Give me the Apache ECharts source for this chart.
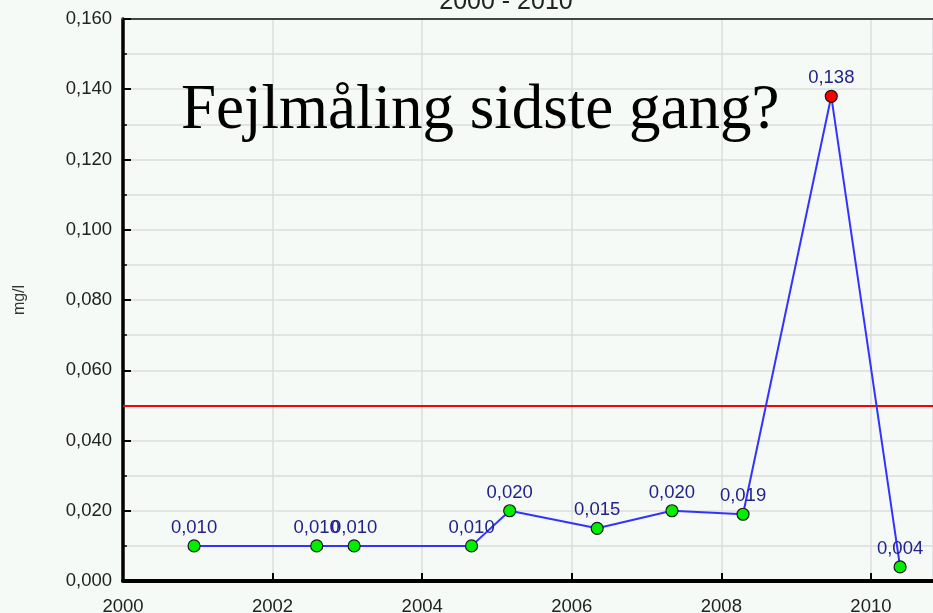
<!DOCTYPE html>
<html>
<head>
<meta charset="utf-8">
<script src="https://cdn.jsdelivr.net/npm/echarts@6/dist/echarts.min.js"></script>
<style>
  html, body { margin: 0; padding: 0; background: #f5faf7; }
  #chart { width: 933px; height: 613px; }
</style>
</head>
<body>
<div id="chart"></div>
<script>
// Sampling dates as decimal years, and measured concentrations (mg/l)
const sampleYears = [2000.95, 2002.59, 2003.09, 2004.66, 2005.17, 2006.34, 2007.34, 2008.29, 2009.47, 2010.39];
const concentrations = [0.010, 0.010, 0.010, 0.010, 0.020, 0.015, 0.020, 0.019, 0.138, 0.004];
const limitValue = 0.050;
const yearTicks = [2000, 2002, 2004, 2006, 2008, 2010];
const titleText = '2000 - 2010';
const unitText = 'mg/l';
const noteText = 'Fejlmåling sidste gang?';

const fmt = v => v.toFixed(3).replace('.', ',');

const points = sampleYears.map((yr, i) => {
  const v = concentrations[i];
  return {
    value: [yr, v],
    itemStyle: { color: v > limitValue ? '#ff0000' : '#00ee00' }
  };
});

// visible time span: the plot runs off the right edge a little before 2011
const xMin = 2000;
const xMax = 2010.83;

const chart = echarts.init(document.getElementById('chart'));
chart.setOption({
  backgroundColor: '#f5faf7',
  animation: false,
  title: {
    text: titleText,
    left: 501,
    textAlign: 'center',
    top: -15,
    textStyle: { fontFamily: 'Liberation Sans', fontSize: 25, fontWeight: 'normal', color: '#222' }
  },
  grid: { left: 123, right: 0, top: 19, bottom: 32, containLabel: false, outerBoundsMode: 'none' },
  xAxis: [{
    type: 'value',
    min: xMin,
    max: xMax,
    interval: 2,
    axisLine: { show: true, onZero: false, lineStyle: { color: '#000', width: 4 } },
    axisTick: { show: true, inside: true, length: 8, lineStyle: { color: '#000', width: 2 } },
    axisLabel: {
      showMaxLabel: false,
      margin: 16,
      fontFamily: 'Liberation Sans', fontSize: 18.5, color: '#222',
      formatter: v => (yearTicks.includes(v) ? String(v) : '')
    },
    splitLine: { show: true, lineStyle: { color: '#dcdcdc', width: 1.5 } }
  }, {
    type: 'value',
    position: 'top',
    min: xMin,
    max: xMax,
    axisLine: { show: true, onZero: false, lineStyle: { color: '#444', width: 2 } },
    axisTick: { show: false },
    axisLabel: { show: false },
    splitLine: { show: false }
  }],
  yAxis: {
    type: 'value',
    min: 0,
    max: 0.16,
    interval: 0.02,
    name: unitText,
    nameLocation: 'middle',
    nameGap: 95,
    nameTextStyle: { fontFamily: 'Liberation Sans', fontSize: 16, color: '#333' },
    axisLine: { show: true, onZero: false, lineStyle: { color: '#000', width: 3.5 } },
    axisTick: { show: true, inside: true, length: 8, lineStyle: { color: '#000', width: 2 } },
    minorTick: { show: true, splitNumber: 2, length: 4, lineStyle: { color: '#000', width: 1.5 } },
    minorSplitLine: { show: true, lineStyle: { color: '#dcdcdc', width: 1.5 } },
    axisLabel: {
      margin: 11,
      fontFamily: 'Liberation Sans', fontSize: 18.5, color: '#222',
      formatter: v => fmt(v)
    },
    splitLine: { show: true, lineStyle: { color: '#dcdcdc', width: 1.5 } }
  },
  series: [{
    type: 'line',
    data: points,
    symbol: 'circle',
    symbolSize: 12,
    lineStyle: { color: '#3333ff', width: 2 },
    itemStyle: { borderColor: '#1a1a1a', borderWidth: 1.2 },
    label: {
      show: true,
      position: 'top',
      distance: 2,
      fontFamily: 'Liberation Sans', fontSize: 18.5, color: '#22228a',
      formatter: p => fmt(p.value[1])
    },
    markLine: {
      silent: true,
      symbol: 'none',
      label: { show: false },
      lineStyle: { color: '#ff0000', width: 2, type: 'solid' },
      data: [{ yAxis: limitValue }]
    },
    z: 5
  }],
  graphic: [{
    type: 'text',
    left: 181,
    top: 80,
    style: {
      text: noteText,
      font: '63px "Liberation Serif"',
      fill: '#000'
    },
    z: 10
  }]
});
</script>
</body>
</html>
